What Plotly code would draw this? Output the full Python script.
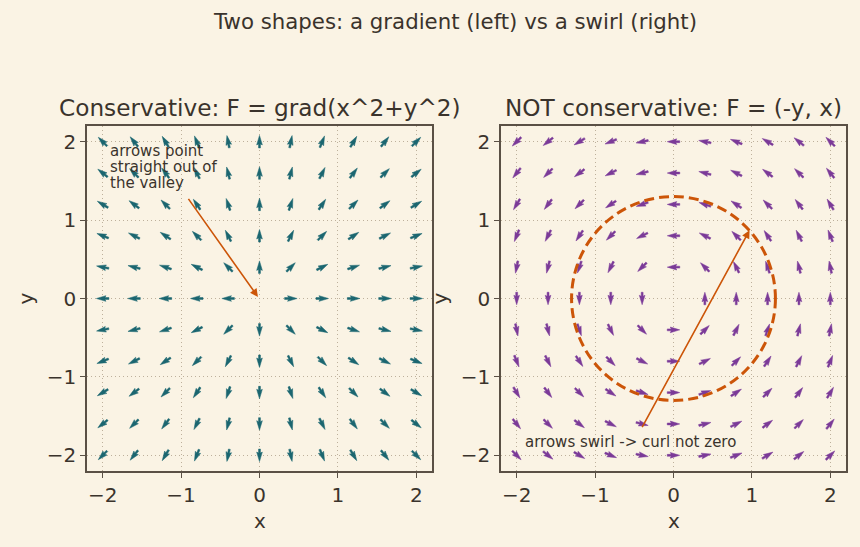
import numpy as np
import plotly.graph_objects as go

# ---- data ----
grid_vals = [-2.0, -1.6, -1.2, -0.8, -0.4, 0.0, 0.4, 0.8, 1.2, 1.6, 2.0]
tick_vals = [-2, -1, 0, 1, 2]
circle_radius = 1.3
suptitle = "Two shapes: a gradient (left) vs a swirl (right)"
title_left = "Conservative: F = grad(x^2+y^2)"
title_right = "NOT conservative: F = (-y, x)"
note_left_lines = ["arrows point", "straight out of", "the valley"]
note_right = "arrows swirl -> curl not zero"

# ---- style ----
BG = "#faf3e4"
TXT = "#3a332c"
FRAME = "#5a5045"
GRID = "#bdb09b"
TEAL = "#1b6670"
PURPLE = "#7b3a98"
ORANGE = "#cc5508"
FONT = "DejaVu Sans"

W, H = 860, 547
AX_PX = 345.0
RANGE = [-2.2, 2.2]
PX_PER_UNIT = AX_PX / (RANGE[1] - RANGE[0])

def field_grad(x, y):
    return 2 * x, 2 * y

def field_swirl(x, y):
    return -y, x

def arrow_polys(field):
    L = 12.5 / PX_PER_UNIT
    w = 1.9 / PX_PER_UNIT
    xs, ys = [], []
    shape = [(0, w / 2), (L - 4.5 * w, w / 2), (L - 5 * w, 1.5 * w), (L, 0),
             (L - 5 * w, -1.5 * w), (L - 4.5 * w, -w / 2), (0, -w / 2), (0, w / 2)]
    for gx in grid_vals:
        for gy in grid_vals:
            u, v = field(gx, gy)
            n = np.hypot(u, v)
            if n == 0:
                continue
            ux, uy = u / n, v / n
            px, py = -uy, ux
            tx, ty = gx - ux * L / 2, gy - uy * L / 2
            for a, p in shape:
                xs.append(tx + ux * a + px * p)
                ys.append(ty + uy * a + py * p)
            xs.append(None)
            ys.append(None)
    return xs, ys

fig = go.Figure()
lx, ly = arrow_polys(field_grad)
fig.add_trace(go.Scatter(x=lx, y=ly, mode="lines", fill="toself", fillcolor=TEAL,
                         line=dict(color=TEAL, width=0.5), hoverinfo="skip",
                         showlegend=False, xaxis="x", yaxis="y"))
rx, ry = arrow_polys(field_swirl)
fig.add_trace(go.Scatter(x=rx, y=ry, mode="lines", fill="toself", fillcolor=PURPLE,
                         line=dict(color=PURPLE, width=0.5), hoverinfo="skip",
                         showlegend=False, xaxis="x2", yaxis="y2"))

top = 126
bot = top + AX_PX
yd = [1 - bot / H, 1 - top / H]
xd1 = [87 / W, (87 + AX_PX) / W]
xd2 = [501 / W, (501 + AX_PX) / W]

axis_common = dict(range=RANGE, tickvals=tick_vals, showgrid=True, gridcolor=GRID,
                   griddash="1px,3px", gridwidth=1, zeroline=False, showline=True,
                   linecolor=FRAME, linewidth=1.5, mirror=True, ticks="outside",
                   ticklen=5, tickwidth=1.3, tickcolor=FRAME,
                   tickfont=dict(family=FONT, size=20, color=TXT), fixedrange=True)

fig.update_layout(
    width=W, height=H, margin=dict(l=0, r=0, t=0, b=0),
    paper_bgcolor=BG, plot_bgcolor=BG,
    font=dict(family=FONT, color=TXT),
    xaxis=dict(domain=xd1, anchor="y", **axis_common),
    yaxis=dict(domain=yd, anchor="x", **axis_common),
    xaxis2=dict(domain=xd2, anchor="y2", **axis_common),
    yaxis2=dict(domain=yd, anchor="x2", **axis_common),
)

fig.add_shape(type="circle", xref="x2", yref="y2",
              x0=-circle_radius, y0=-circle_radius, x1=circle_radius, y1=circle_radius,
              line=dict(color=ORANGE, width=3, dash="10px,5px"))

def ptext(text, xp, yp, size, angle=0):
    return dict(text=text, x=xp / W, y=1 - yp / H, xref="paper", yref="paper",
                xanchor="center", yanchor="middle", showarrow=False, textangle=angle,
                font=dict(size=size, color=TXT, family=FONT))

ann = []
ann.append(ptext(suptitle, 454.5, 22, 21.3))
ann.append(ptext(title_left, 87 + AX_PX / 2, 107, 23.2))
ann.append(ptext(title_right, 501 + AX_PX / 2, 107, 23.2))
for xc in (87 + AX_PX / 2, 501 + AX_PX / 2):
    ann.append(ptext("x", xc, 521, 20))
for xc in (25, 439):
    ann.append(ptext("y", xc, top + AX_PX / 2, 20, -90))
# left note
for i, line in enumerate(note_left_lines):
    ann.append(dict(text=line, x=-1.935, y=1.88 - i * 0.205, xref="x", yref="y",
                    xanchor="left", yanchor="middle", showarrow=False,
                    font=dict(size=15, color=TXT, family=FONT)))
ann.append(dict(text="", x=-0.02, y=0.02, ax=-0.92, ay=1.29, xref="x", yref="y",
                axref="x", ayref="y", showarrow=True, arrowhead=2, arrowsize=1,
                arrowwidth=1.6, arrowcolor=ORANGE))
# right note
ann.append(dict(text=note_right, x=-1.915, y=-1.83, xref="x2", yref="y2",
                xanchor="left", yanchor="middle", showarrow=False,
                font=dict(size=15, color=TXT, family=FONT)))
ann.append(dict(text="", x=0.97, y=0.87, ax=-0.41, ay=-1.66, xref="x2", yref="y2",
                axref="x2", ayref="y2", showarrow=True, arrowhead=2, arrowsize=1,
                arrowwidth=1.6, arrowcolor=ORANGE))
fig.update_layout(annotations=ann)

fig.write_html("out.html")
